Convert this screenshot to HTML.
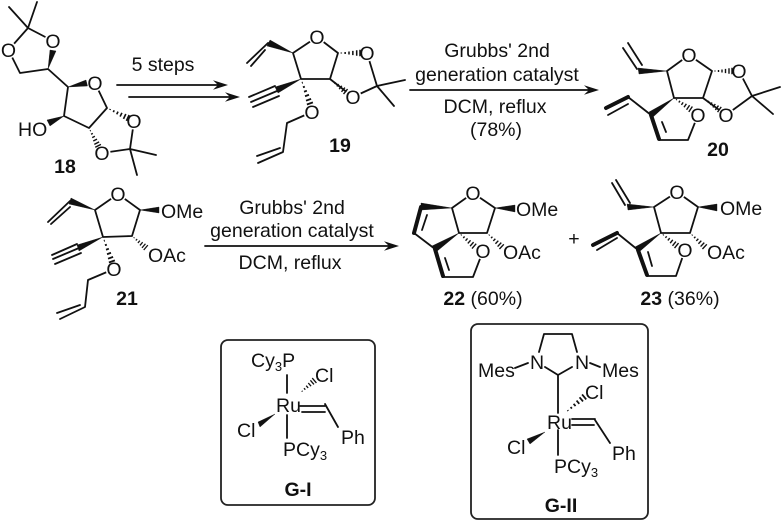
<!DOCTYPE html>
<html><head><meta charset="utf-8">
<style>
html,body{margin:0;padding:0;background:#fff;width:782px;height:522px;overflow:hidden}
svg{display:block;filter:blur(.3px)}
.b{fill:none;stroke:#111;stroke-width:1.8;stroke-linejoin:round;stroke-linecap:round}
.k{fill:none;stroke:#111;stroke-width:4;stroke-linecap:round}
.w{fill:#111;stroke:#111;stroke-width:.4;stroke-linejoin:round}
.o{fill:#fff;stroke:none}
text{font-family:"Liberation Sans",Arial,sans-serif;font-size:19.5px;fill:#111}
.a,.c{text-anchor:middle}
.l{font-weight:bold}
.s{font-size:13px}
</style></head><body>
<svg width="782" height="522" viewBox="0 0 782 522" xmlns="http://www.w3.org/2000/svg">
<defs>
<g id="h" class="b" style="stroke-width:1.4;stroke-linecap:butt">
<path d="M3,-.5V.5M6.5,-1V1M10,-1.5V1.5M13.5,-2.1V2.1M17,-2.7V2.7M20,-3.2V3.2"/>
</g>
<g id="ar"><polygon points="0,0 -15,-4.8 -10,0 -15,4.8" fill="#111"/></g>
</defs>

<!-- 18 -->
<path class="b" d="M9,7L28,28L37,2M28,28L53,41M28,28L8.5,50L20,73L48,69L68,87L64,116L89,128L107,108L95,83M130,149L134,121M130,149L102,153M130,149L156,155M130,149L137,175"/>
<g class="o"><circle cx="8.5" cy="50" r="8.5"/><circle cx="53" cy="41" r="8.5"/><circle cx="95" cy="83" r="8.5"/><circle cx="134" cy="121" r="8.5"/><circle cx="102" cy="153" r="8.5"/></g>
<polygon class="w" points="48,69 50,50 56,51"/><polygon class="w" points="68,87 86,80 87.5,86"/><polygon class="w" points="64,116 47,120 50,126"/>
<use href="#h" transform="translate(107,108) rotate(25.5) scale(1.15,1)"/><use href="#h" transform="translate(89,128) rotate(63)"/>
<text class="a" x="8.5" y="57">O</text><text class="a" x="53" y="48">O</text><text class="a" x="95" y="90">O</text><text class="a" x="134" y="128">O</text><text class="a" x="102" y="160">O</text>
<text x="18" y="136">HO</text>
<text class="c l" x="65" y="173">18</text>

<!-- arrow 1 -->
<path class="b" d="M117,85H218M129,97H230"/><use href="#ar" transform="translate(228,85)"/><use href="#ar" transform="translate(240,97)"/>
<text class="c" x="163" y="71">5 steps</text>

<!-- 19 -->
<path class="b" d="M317,37L293,53L301,79L330,79L338,53L317,37M330,79L353,97L377,86L367,53M377,86L405,80M377,86L394,106M268,43L247,63M265,50L251,66M249,97L275,86M251,102L277,91M253,107L279,96M312,112L287,123L283,152L258,163M280,148L257,156"/>
<g class="o"><circle cx="317" cy="37" r="8.5"/><circle cx="367" cy="53" r="8.5"/><circle cx="353" cy="97" r="8.5"/><circle cx="312" cy="112" r="8.5"/></g>
<polygon class="w" points="293,53 270,40 267,46"/><polygon class="w" points="301,79 275,87 278,93"/>
<use href="#h" transform="translate(338,53) rotate(0) scale(1.1,1)"/><use href="#h" transform="translate(330,79) rotate(39)"/><use href="#h" transform="translate(301,79) rotate(70) scale(1.3,1)"/>
<text class="a" x="317" y="44">O</text><text class="a" x="367" y="60">O</text><text class="a" x="353" y="104">O</text><text class="a" x="312" y="119">O</text>
<text class="c l" x="340" y="152">19</text>

<!-- arrow 2 -->
<path class="b" d="M410,90H590"/><use href="#ar" transform="translate(599,90)"/>
<text class="c" x="497" y="57">Grubbs' 2nd</text>
<text class="c" x="497" y="81">generation catalyst</text>
<text class="c" x="495" y="113">DCM, reflux</text>
<text class="c" x="496" y="136">(78%)</text>

<!-- 20 -->
<path class="b" d="M689,55L667,71L674,98L703,98L712,71L689,55M703,98L726,115L752,96L739,71M752,96L780,87M752,96L773,114M623,48L637,69M628,43L642,65M651,115L628,97M608,115L628,104M659,140L688,140L698,115M662,122L666,132"/>
<g class="o"><circle cx="689" cy="55" r="8.5"/><circle cx="739" cy="71" r="8.5"/><circle cx="726" cy="115" r="8.5"/><circle cx="698" cy="115" r="8.5"/></g>
<path class="k" d="M651,115L659,139M628,97L606,108"/>
<polygon class="w" points="667,71 638,68 639,74"/><polygon class="w" points="674,98 649,112 653,117"/>
<use href="#h" transform="translate(712,71)"/><use href="#h" transform="translate(703,98) rotate(35)"/><use href="#h" transform="translate(674,98) rotate(34)"/>
<text class="a" x="689" y="62">O</text><text class="a" x="739" y="78">O</text><text class="a" x="726" y="122">O</text><text class="a" x="698" y="122">O</text>
<text class="c l" x="718" y="156">20</text>

<!-- 21 -->
<path class="b" d="M118,194L95,210L103,237L132,236L140,210L118,194M70,201L48,222M70,207L51,224M52,255L77,244M53,259L79,248M55,264L81,253M114,269L88,280L85,307L60,319M80,305L57,313"/>
<g class="o"><circle cx="118" cy="194" r="8.5"/><circle cx="114" cy="269" r="8.5"/></g>
<polygon class="w" points="95,210 71,198 69,204"/><polygon class="w" points="103,237 77,245 79,251"/><polygon class="w" points="140,210 159,207 159,213"/>
<use href="#h" transform="translate(103,237) rotate(70) scale(1.3,1)"/><use href="#h" transform="translate(132,236) rotate(40) scale(.9,1)"/>
<text class="a" x="118" y="201">O</text><text class="a" x="114" y="276">O</text>
<text x="161" y="218">OMe</text><text x="148" y="262">OAc</text>
<text class="c l" x="127" y="305">21</text>

<!-- arrow 3 -->
<path class="b" d="M205,246H390"/><use href="#ar" transform="translate(399,246)"/>
<text class="c" x="292" y="214">Grubbs' 2nd</text>
<text class="c" x="292" y="237">generation catalyst</text>
<text class="c" x="290" y="269">DCM, reflux</text>

<!-- 22 -->
<path class="b" d="M473,193L452,208L459,233L487,233L495,208L473,193M435,249L414,233M422,230L427,215M443,277L473,277L483,251M445,258L449,270"/>
<g class="o"><circle cx="473" cy="193" r="8.5"/><circle cx="483" cy="251" r="8.5"/></g>
<path class="k" d="M435,249L443,276M414,233L421,207"/>
<polygon class="w" points="495,208 515,205 515,212"/><polygon class="w" points="452,208 421,203 421,210"/><polygon class="w" points="459,233 432,246 436,252"/>
<use href="#h" transform="translate(487,233) rotate(43)"/><use href="#h" transform="translate(459,233) rotate(41)"/>
<text class="a" x="473" y="200">O</text><text class="a" x="483" y="258">O</text>
<text x="516" y="216">OMe</text><text x="503" y="259">OAc</text>
<text class="c" x="483" y="305"><tspan class="l">22</tspan> (60%)</text>
<text class="c" x="574" y="245">+</text>

<!-- 23 -->
<path class="b" d="M677,192L654,207L661,233L690,233L698,207L677,192M625,205L612,183M630,203L616,180M638,250L617,233M597,250L617,238M647,276L676,276L685,250M648,252L652,266"/>
<g class="o"><circle cx="677" cy="192" r="8.5"/><circle cx="685" cy="250" r="8.5"/></g>
<path class="k" d="M638,250L647,275M617,233L593,245"/>
<polygon class="w" points="698,207 717,204 717,211"/><polygon class="w" points="654,207 627,204 628,210"/><polygon class="w" points="661,233 635,247 639,252"/>
<use href="#h" transform="translate(690,233) rotate(43)"/><use href="#h" transform="translate(661,233) rotate(39)"/>
<text class="a" x="677" y="199">O</text><text class="a" x="685" y="257">O</text>
<text x="720" y="215">OMe</text><text x="707" y="259">OAc</text>
<text class="c" x="680" y="305"><tspan class="l">23</tspan> (36%)</text>

<!-- G-I -->
<rect x="221" y="340" width="154" height="165" rx="7" fill="none" stroke="#222" stroke-width="1.8"/>
<path class="b" d="M287,375V393M287,415V438M300,406H325M302,412H325M325,404L338,427"/>
<polygon class="w" points="275,414 258,422 260,427"/>
<use href="#h" transform="translate(300,393) rotate(-41) scale(.95,1)"/>
<text x="251" y="367">Cy<tspan class="s" dy="4">3</tspan><tspan dy="-4">P</tspan></text>
<text x="315" y="382">Cl</text>
<text x="276" y="412">Ru</text>
<text x="237" y="437">Cl</text>
<text x="341" y="444">Ph</text>
<text x="283" y="456">PCy<tspan class="s" dy="4">3</tspan></text>
<text class="c l" x="298" y="496">G-I</text>

<!-- G-II -->
<rect x="471" y="324" width="177" height="195" rx="7" fill="none" stroke="#222" stroke-width="1.8"/>
<path class="b" d="M539,352L544,334H572L577,352M545,367L558,375L572,367M515,368L528,363M590,363L600,367M558,375V413M558,430V455M572,419H595M572,425H594M595,420L610,443"/>
<polygon class="w" points="545,432 527,439 530,444"/>
<use href="#h" transform="translate(565,413) rotate(-40) scale(1.25,1)"/>
<text class="c" x="537" y="369">N</text><text class="c" x="582" y="369">N</text>
<text x="478" y="377">Mes</text><text x="602" y="377">Mes</text>
<text x="585" y="399">Cl</text>
<text x="547" y="429">Ru</text>
<text x="507" y="454">Cl</text>
<text x="612" y="460">Ph</text>
<text x="554" y="473">PCy<tspan class="s" dy="4">3</tspan></text>
<text class="c l" x="561" y="512">G-II</text>
</svg>
</body></html>
